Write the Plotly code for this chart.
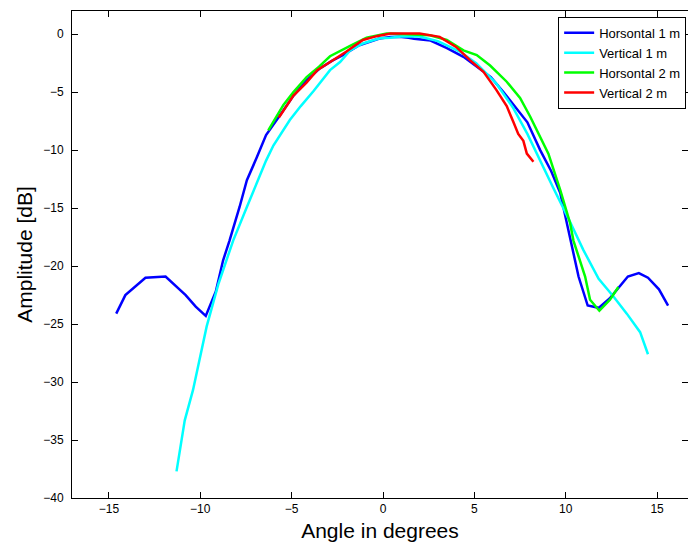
import plotly.graph_objects as go

# Horsontal 1 m
h1_x = [-14.6, -14.1, -13.0, -11.9, -10.8, -10.25, -9.7, -9.15, -8.75, -8.4, -7.85, -7.45,
        -6.9, -6.4, -5.6, -4.9, -4.2, -3.5, -2.8, -2.2, -1.3, -0.7, -0.2, 0.4, 0.9, 1.4,
        1.7, 2.6, 3.5, 4.4, 5.1, 5.9, 6.6, 7.3, 7.9, 8.6, 9.2, 9.7, 10.2, 10.7, 11.2, 11.8,
        12.4, 13.0, 13.4, 14.0, 14.5, 15.1, 15.6]
h1_y = [-24.1, -22.5, -21.0, -20.9, -22.5, -23.5, -24.3, -22.2, -19.5, -17.8, -14.9, -12.6,
        -10.6, -8.7, -6.9, -5.3, -4.0, -3.0, -2.3, -1.8, -0.95, -0.6, -0.37, -0.25, -0.23, -0.3,
        -0.4, -0.55, -1.2, -1.95, -2.8, -3.7, -5.0, -6.4, -7.6, -10.0, -11.8, -13.7, -17.2, -20.9, -23.4, -23.6,
        -22.8, -21.6, -20.9, -20.6, -21.0, -22.0, -23.4]

# Vertical 1 m
v1_x = [-11.3, -10.85, -10.4, -9.65, -9.0, -8.2, -7.45, -6.8, -6.4, -6.0, -5.1, -4.5, -3.8,
        -2.9, -2.35, -1.8, -1.1, -0.5, -0.16, 0.4, 1.0, 2.0, 3.0, 4.2, 5.1, 6.2, 7.1, 7.9,
        8.5, 9.3, 10.24, 10.96, 11.8, 12.6, 13.34, 14.07, 14.5]
v1_y = [-37.7, -33.3, -30.7, -25.2, -21.5, -17.8, -14.9, -12.4, -10.9, -9.6, -7.4, -6.2, -4.9,
        -3.1, -2.4, -1.4, -0.8, -0.5, -0.35, -0.3, -0.2, -0.2, -0.6, -1.5, -2.5, -4.25, -6.3, -8.6,
        -10.6, -13.2, -16.2, -18.6, -21.1, -22.6, -24.1, -25.7, -27.6]

# Horsontal 2 m
h2_x = [-6.28, -5.45, -4.9, -4.18, -3.5, -2.9, -1.8, -0.9, 0.2, 0.9, 1.8, 2.57, 3.49, 4.4,
        5.13, 5.86, 6.77, 7.5, 8.05, 9.05, 9.7, 10.24, 10.42, 11.06, 11.33, 11.84, 12.42, 12.88]
h2_y = [-8.3, -6.1, -5.0, -3.7, -2.8, -1.9, -1.0, -0.3, 0.05, 0.0, 0.0, -0.1, -0.5, -1.4,
        -1.8, -2.7, -4.1, -5.5, -7.1, -10.3, -13.45, -16.3, -17.8, -20.9, -22.9, -23.85, -22.9, -21.8]

# Vertical 2 m
v2_x = [-5.7, -4.9, -4.2, -3.6, -2.7, -2.0, -1.1, -0.35, 0.2, 0.4, 1.0, 2.0, 3.1, 4.0,
        4.76, 5.5, 6.2, 6.77, 7.14, 7.4, 7.68, 7.87, 8.23]
v2_y = [-7.2, -5.3, -4.2, -3.1, -2.2, -1.5, -0.5, -0.17, 0.0, 0.05, 0.07, 0.05, -0.23, -1.1,
        -2.24, -3.25, -4.8, -6.2, -7.6, -8.6, -9.2, -10.3, -11.0]

series = [
    ("Horsontal 1 m", h1_x, h1_y, "#0000ff"),
    ("Vertical 1 m", v1_x, v1_y, "#00ffff"),
    ("Horsontal 2 m", h2_x, h2_y, "#00ff00"),
    ("Vertical 2 m", v2_x, v2_y, "#ff0000"),
]

x_ticks = [-15, -10, -5, 0, 5, 10, 15]
y_ticks = [0, -5, -10, -15, -20, -25, -30, -35, -40]

fig = go.Figure()
for name, xs, ys, col in series:
    fig.add_trace(go.Scatter(x=xs, y=ys, mode="lines", name=name,
                             line=dict(color=col, width=2.5)))
# invisible trace to carry right-side tick marks
fig.add_trace(go.Scatter(x=[None], y=[None], yaxis="y2", showlegend=False,
                         hoverinfo="skip"))

font_family = "Liberation Sans, Arial, sans-serif"
fig.update_layout(
    width=688, height=546,
    margin=dict(l=72, r=0, t=11, b=48),
    plot_bgcolor="white", paper_bgcolor="white",
    font=dict(family=font_family, size=12, color="black"),
    xaxis=dict(range=[-17.02, 16.69], tickvals=x_ticks, ticks="inside", ticklen=6,
               showline=True, linecolor="black", linewidth=1, mirror="ticks",
               showgrid=False, zeroline=False, tickcolor="black",
               title=dict(text="Angle in degrees", font=dict(size=21), standoff=7)),
    yaxis=dict(range=[-40, 2], tickvals=y_ticks, ticks="inside", ticklen=6,
               showline=True, linecolor="black", linewidth=1, mirror=False,
               showgrid=False, zeroline=False, tickcolor="black",
               ticklabelstandoff=5,
               title=dict(text="Amplitude [dB]", font=dict(size=21), standoff=4)),
    yaxis2=dict(range=[-40, 2], tickvals=y_ticks, ticks="inside", ticklen=6,
                overlaying="y", side="right", showline=False, showticklabels=False,
                showgrid=False, zeroline=False, tickcolor="black"),
    legend=dict(x=0.997, y=0.988, xanchor="right", yanchor="top",
                bordercolor="black", borderwidth=1, bgcolor="white",
                font=dict(size=13), tracegroupgap=0),
    showlegend=True,
)

fig.write_html("out.html")
